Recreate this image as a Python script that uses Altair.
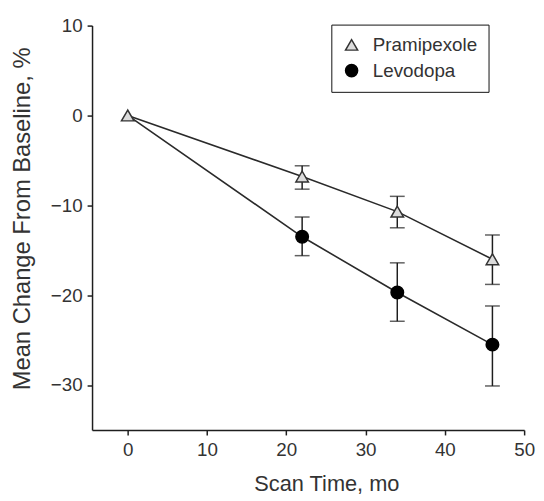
import altair as alt
import pandas as pd

# ---- data ----
months = [0, 22, 34, 46]
series_names = ["Pramipexole", "Levodopa"]

prami_mean = [0.0, -6.8, -10.7, -16.0]
prami_low = [0.0, -8.2, -12.5, -18.8]
prami_high = [0.0, -5.6, -9.0, -13.3]

levo_mean = [0.0, -13.5, -19.7, -25.5]
levo_low = [0.0, -15.6, -22.9, -30.1]
levo_high = [0.0, -11.3, -16.4, -21.2]

x_ticks = [0, 10, 20, 30, 40, 50]
y_ticks = [-30, -20, -10, 0, 10]

rows = []
for name, means, lows, highs in [
    ("Pramipexole", prami_mean, prami_low, prami_high),
    ("Levodopa", levo_mean, levo_low, levo_high),
]:
    for m, v, lo, hi in zip(months, means, lows, highs):
        rows.append({"series": name, "month": m, "mean": v, "low": lo, "high": hi})
df = pd.DataFrame(rows)

FONT = "Liberation Sans"
INK = "#1e1e1e"
TXT = "#333333"

xscale = alt.Scale(domain=[-4.5, 50], nice=False, zero=False)
yscale = alt.Scale(domain=[-35, 10], nice=False, zero=False)

x_enc = alt.X(
    "month:Q",
    scale=xscale,
    axis=alt.Axis(
        values=x_ticks,
        title="Scan Time, mo",
        titleX=237,
        titleY=61,
        titleFontSize=22,
        titleBaseline="alphabetic",
        labelPadding=6,
        labelFlush=False,
    ),
)
y_enc = alt.Y(
    "mean:Q",
    scale=yscale,
    axis=alt.Axis(
        values=y_ticks,
        title="Mean Change From Baseline, %",
        titleX=-63,
        titleY=195,
        titleFontSize=24,
        titleBaseline="alphabetic",
        labelPadding=5,
    ),
)

base = alt.Chart(df)

lines = base.mark_line(color="#2a2a2a", strokeWidth=1.6).encode(
    x=x_enc, y=y_enc, detail="series:N", order="month:Q"
)

err_df = base.transform_filter("datum.month > 0")

rules = err_df.mark_rule(color=INK, strokeWidth=1.5).encode(
    x="month:Q", y="low:Q", y2="high:Q"
)
caps_low = err_df.mark_tick(color=INK, orient="horizontal", size=15, thickness=1.5).encode(
    x="month:Q", y="low:Q"
)
caps_high = err_df.mark_tick(color=INK, orient="horizontal", size=15, thickness=1.5).encode(
    x="month:Q", y="high:Q"
)

legend = alt.Legend(
    title=None,
    orient="none",
    legendX=242,
    legendY=-1,
    strokeColor="#111111",
    padding=11,
    symbolSize=150,
    symbolStrokeWidth=1.5,
    labelFontSize=19,
    labelFont=FONT,
    labelColor=TXT,
    labelOffset=12,
    rowPadding=6,
    fillColor="white",
)

points = (
    base.transform_filter("!(datum.series == 'Levodopa' && datum.month == 0)")
    .mark_point(filled=True, opacity=1, strokeWidth=1.5, size=160)
    .encode(
        x="month:Q",
        y="mean:Q",
        shape=alt.Shape(
            "series:N",
            scale=alt.Scale(domain=series_names, range=["triangle-up", "circle"]),
            legend=legend,
        ),
        fill=alt.Fill(
            "series:N",
            scale=alt.Scale(domain=series_names, range=["#dcdcdc", "#000000"]),
            legend=legend,
        ),
        stroke=alt.Stroke(
            "series:N",
            scale=alt.Scale(domain=series_names, range=["#333333", "#000000"]),
            legend=legend,
        ),
    )
)

chart = (
    alt.layer(lines, rules, caps_low, caps_high, points)
    .properties(
        width=437,
        height=409,
        autosize=alt.AutoSizeParams(type="none"),
        padding={"left": 85, "top": 15, "right": 12, "bottom": 68},
    )
    .configure_view(strokeOpacity=0)
    .configure_axis(
        grid=False,
        domainColor=INK,
        domainWidth=1.5,
        tickColor=INK,
        tickWidth=1.5,
        tickSize=5,
        labelFont=FONT,
        labelFontSize=19,
        labelColor=TXT,
        titleFont=FONT,
        titleFontWeight="normal",
        titleColor=TXT,
    )
)

chart.save("out.html", embed_options={"renderer": "svg", "actions": False})
